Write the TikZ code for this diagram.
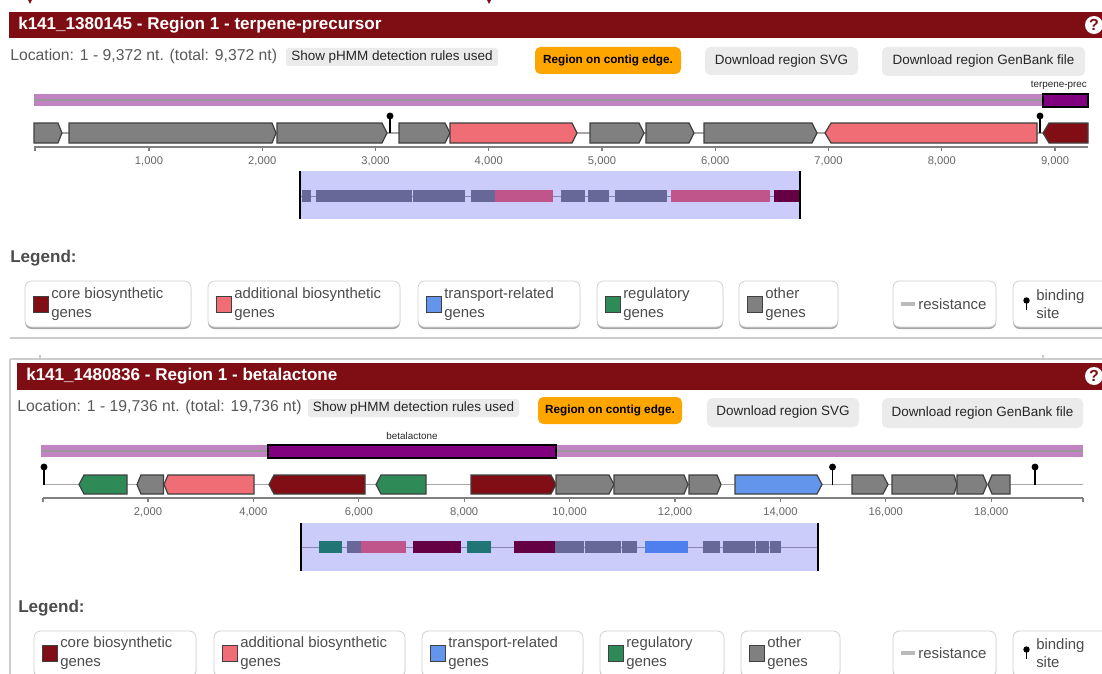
\documentclass[tikz,border=0pt]{standalone}
\usepackage{fontspec}
\setmainfont{Liberation Sans}
\usepackage{tikz}
\usetikzlibrary{positioning}
\usepackage{xcolor}

\definecolor{hdrred}{HTML}{7F0E14}
\definecolor{coregene}{HTML}{810E15}
\definecolor{addgene}{HTML}{F16D75}
\definecolor{othgene}{HTML}{808080}
\definecolor{transgene}{HTML}{6495ED}
\definecolor{reggene}{HTML}{2E8B57}
\definecolor{zoomfill}{HTML}{CCCCFB}
\definecolor{zslate}{HTML}{676798}
\definecolor{zpink}{HTML}{C0558C}
\definecolor{zdark}{HTML}{660044}
\definecolor{zteal}{HTML}{227575}
\definecolor{zblue}{HTML}{4F7FEF}
\definecolor{protolight}{HTML}{C283C2}
\definecolor{protodark}{HTML}{800080}
\definecolor{btngray}{HTML}{EBEBEB}
\definecolor{edgeorange}{HTML}{FFA500}

\tikzset{
  gene/.style={draw=black!75, line width=0.9pt},
  trackline/.style={draw=black!35, line width=0.8pt},
  axisline/.style={draw=black!50, line width=0.9pt},
  zline/.style={draw=zslate!80, line width=0.7pt},
  zedge/.style={draw=black, line width=2.2pt},
  sepline/.style={draw=black!20, line width=0.8pt},
  hdrtext/.style={font=\bfseries\fontsize{12.8}{15}\selectfont, text=white, inner sep=0pt},
  loctext/.style={font=\fontsize{11.8}{14}\selectfont, text=black!65, inner sep=0pt},
  btntext/.style={font=\fontsize{10.1}{12}\selectfont, text=black!85, inner sep=0pt},
  edgetext/.style={font=\bfseries\fontsize{8.8}{11}\selectfont, text=black, inner sep=0pt},
  ticktext/.style={font=\fontsize{8.4}{10}\selectfont, text=black!60, inner sep=0pt},
  smalltext/.style={font=\fontsize{7.4}{9}\selectfont, text=black!85, inner sep=0pt},
  legtitle/.style={font=\bfseries\fontsize{12.8}{15}\selectfont, text=black!70, inner sep=0pt},
  legtext/.style={font=\fontsize{11.2}{14}\selectfont, text=black!70, inner sep=0pt, align=left},
  legbox/.style={fill=white, draw=black!18, line width=0.6pt, rounded corners=5pt},
  legshadow/.style={fill=black!35, rounded corners=5pt},
  bsite/.style={draw=black, line width=1.1pt},
}

\begin{document}
\begin{tikzpicture}[x=0.75pt, y=-0.75pt]
\useasboundingbox (0,0) rectangle (1102,674);
\clip (0,0) rectangle (1102,674);
\fill[white] (0,0) rectangle (1102,674);

% first region
\fill[hdrred] (28,0) -- (32,0) -- (30,4) -- cycle;
\fill[hdrred] (487,0) -- (491,0) -- (489,4) -- cycle;
\fill[hdrred] (9,12) rectangle (1102,38);
\node[hdrtext, anchor=west] (titleA) at (18,25) {k141\_1380145 - Region 1 - terpene-precursor};
\fill[white] (1094,25) circle (6.75pt);
\node[font=\bfseries\fontsize{12}{14}\selectfont, text=hdrred, inner sep=0pt] (helpA) at (1094,25) {?};

\node[loctext, anchor=west] (locA) at (10,56) {Location: 1 - 9,372 nt. (total: 9,372 nt)};
\fill[btngray, rounded corners=2pt] (286,48) rectangle (498,66);
\node[btntext] (hmmA) at (392,57) {Show pHMM detection rules used};
\fill[edgeorange, rounded corners=4pt] (535,47) rectangle (681,74);
\node[edgetext] (edgeA) at (608,60.5) {Region on contig edge.};
\fill[btngray, rounded corners=4pt] (705,47) rectangle (858,75);
\node[btntext] (svgA) at (781.5,61) {Download region SVG};
\fill[btngray, rounded corners=4pt] (882,47) rectangle (1085,76);
\node[btntext] (gbkA) at (983.5,61.5) {Download region GenBank file};

\node[smalltext, anchor=east] (protoA) at (1087,85) {terpene-prec};
\fill[protolight] (34,94) rectangle (1088,106);
\draw[draw=black!40, line width=0.8pt] (34,100) -- (1088,100);
\filldraw[fill=protodark, draw=black, line width=0.8pt] (1043,94) rectangle (1088,107);

\draw[trackline] (34,133) -- (1088,133);
\foreach \a/\b/\p/\c in {34/58/62/othgene, 69/272/276/othgene, 277/382/387/othgene, 399/445/450/othgene, 450/572/577/addgene, 590/639/644/othgene, 646/689/694/othgene, 704/812/817/othgene}
  \filldraw[gene, fill=\c] (\a,123) -- (\b,123) -- (\p,133) -- (\b,143) -- (\a,143) -- cycle;
\foreach \p/\a/\b/\c in {825/831/1037/addgene, 1043/1049/1088/coregene}
  \filldraw[gene, fill=\c] (\p,133) -- (\a,123) -- (\b,123) -- (\b,143) -- (\a,143) -- cycle;
\foreach \x in {390,1040} {
  \draw[bsite] (\x,133) -- (\x,117);
  \fill (\x,116) circle (2.6pt);
}

\draw[axisline] (34,147) -- (1088,147);
\draw[axisline] (35,147) -- (35,151);
\foreach \k in {1,...,9} {
  \draw[axisline] ({149+113.25*(\k-1)},147) -- ++(0,4);
  \node[ticktext] (tickA\k) at ({149+113.25*(\k-1)},161) {\k,000};
}

\fill[zoomfill] (300,171) rectangle (800,219);
\draw[zline] (300,196) -- (800,196);
\foreach \a/\b/\c in {302/311/zslate, 316/412/zslate, 413/465/zslate, 471/495/zslate, 495/553/zpink, 561/585/zslate, 588/609/zslate, 615/667/zslate, 671/770/zpink, 774/800/zdark}
  \fill[\c] (\a,190) rectangle (\b,202);
\draw[zedge] (300,171) -- (300,219);
\draw[zedge] (800,171) -- (800,219);

\node[legtitle, anchor=west] (legA) at (10,258) {Legend:};
\foreach \a/\b/\c/\t in {25/191/coregene/{core biosynthetic\\genes}, 208/400/addgene/{additional biosynthetic\\genes}, 418/580/transgene/{transport-related\\genes}, 597/723/reggene/{regulatory\\genes}, 739/838/othgene/{other\\genes}} {
  \fill[legshadow] (\a,283) rectangle (\b,329);
  \filldraw[legbox] (\a,281) rectangle (\b,327);
  \filldraw[fill=\c, draw=black!75, line width=0.7pt] ({\a+8},296) rectangle ({\a+23},312);
  \node[legtext, anchor=west] (legA-\a) at ({\a+26},304) {\t};
}
\fill[legshadow] (893,283) rectangle (996,329);
\filldraw[legbox] (893,281) rectangle (996,327);
\fill[black!27] (901,302) rectangle (915,306);
\node[legtext, anchor=west] (resA) at (918,304) {resistance};
\fill[legshadow] (1013,283) rectangle (1115,329);
\filldraw[legbox] (1013,281) rectangle (1115,327);
\draw[bsite] (1026.5,301) -- (1026.5,310);
\fill (1026.5,300.5) circle (2.4pt);
\node[legtext, anchor=west] (bindA) at (1036,304) {binding\\site};

\draw[sepline] (10,338) -- (1102,338);

% second region
\draw[sepline] (10,359) -- (1102,359);
\draw[sepline] (10,359) -- (10,674);
\draw[sepline] (40,355) -- (40,359);
\draw[sepline] (1043,355) -- (1043,359);
\fill[hdrred] (17,363) rectangle (1102,390);
\node[hdrtext, anchor=west] (titleB) at (26,376.5) {k141\_1480836 - Region 1 - betalactone};
\fill[white] (1094,376) circle (6.75pt);
\node[font=\bfseries\fontsize{12}{14}\selectfont, text=hdrred, inner sep=0pt] (helpB) at (1094,376) {?};

\node[loctext, anchor=west] (locB) at (17,407) {Location: 1 - 19,736 nt. (total: 19,736 nt)};
\fill[btngray, rounded corners=2pt] (308,399) rectangle (519,417);
\node[btntext] (hmmB) at (413.5,408) {Show pHMM detection rules used};
\fill[edgeorange, rounded corners=4pt] (538,397) rectangle (682,424);
\node[edgetext] (edgeB) at (610,410.5) {Region on contig edge.};
\fill[btngray, rounded corners=4pt] (707,398) rectangle (859,427);
\node[btntext] (svgB) at (783,412.5) {Download region SVG};
\fill[btngray, rounded corners=4pt] (882,398) rectangle (1083,428);
\node[btntext] (gbkB) at (982.5,413) {Download region GenBank file};

\node[smalltext] (protoB) at (412,436) {betalactone};
\fill[protolight] (41,445) rectangle (1083,457);
\draw[draw=black!40, line width=0.8pt] (41,451) -- (1083,451);
\filldraw[fill=protodark, draw=black, line width=0.8pt] (268,445) rectangle (556,458);

\draw[trackline] (43,484.5) -- (1083,484.5);
\foreach \p/\a/\b/\c in {79/84/127/reggene, 137/141/163.5/othgene, 164/168/254/addgene, 269/274/365/coregene, 376/381/426/reggene, 988/992/1010/othgene}
  \filldraw[gene, fill=\c] (\p,484.5) -- (\a,475) -- (\b,475) -- (\b,494) -- (\a,494) -- cycle;
\foreach \a/\b/\p/\c in {471/551/556/coregene, 556/609/614/othgene, 614/684/688/othgene, 689/717/721/othgene, 735/817/822/transgene, 852/883/888/othgene, 892/954/957/othgene, 957/983/987/othgene}
  \filldraw[gene, fill=\c] (\a,475) -- (\b,475) -- (\p,484.5) -- (\b,494) -- (\a,494) -- cycle;
\foreach \x in {44,832.5,1035} {
  \draw[bsite] (\x,484.5) -- (\x,468);
  \fill (\x,467) circle (2.6pt);
}

\draw[axisline] (43,498) -- (1083,498);
\draw[axisline] (43,498) -- (43,502);
\draw[axisline] (1083,498) -- (1083,502);
\foreach \k in {1,...,9} {
  \pgfmathtruncatemacro{\v}{2*\k}
  \draw[axisline] ({148+105.4*(\k-1)},498) -- ++(0,4);
  \node[ticktext] (tickB\k) at ({148+105.4*(\k-1)},512) {\v,000};
}

\fill[zoomfill] (301,523) rectangle (818,571);
\draw[zline] (301,547) -- (818,547);
\foreach \a/\b/\c in {319/342/zteal, 347/361/zslate, 361/406/zpink, 413/461/zdark, 467/491/zteal, 514/555/zdark, 555/584/zslate, 585/621/zslate, 622/637/zslate, 645/688/zblue, 703/720/zslate, 723/755/zslate, 756/769/zslate, 770/781/zslate}
  \fill[\c] (\a,541) rectangle (\b,553);
\draw[zedge] (301,523) -- (301,571);
\draw[zedge] (818,523) -- (818,571);

\node[legtitle, anchor=west] (legB) at (18,608) {Legend:};
\foreach \a/\b/\c/\t in {34/196/coregene/{core biosynthetic\\genes}, 214/405/addgene/{additional biosynthetic\\genes}, 422/583/transgene/{transport-related\\genes}, 600/724/reggene/{regulatory\\genes}, 741/840/othgene/{other\\genes}} {
  \fill[legshadow] (\a,633) rectangle (\b,679);
  \filldraw[legbox] (\a,631) rectangle (\b,677);
  \filldraw[fill=\c, draw=black!75, line width=0.7pt] ({\a+8},645) rectangle ({\a+23},661);
  \node[legtext, anchor=west] (legB-\a) at ({\a+26},653) {\t};
}
\fill[legshadow] (893,633) rectangle (996,679);
\filldraw[legbox] (893,631) rectangle (996,677);
\fill[black!27] (901,651) rectangle (915,655);
\node[legtext, anchor=west] (resB) at (918,653) {resistance};
\fill[legshadow] (1013,633) rectangle (1115,679);
\filldraw[legbox] (1013,631) rectangle (1115,677);
\draw[bsite] (1026.5,650) -- (1026.5,659);
\fill (1026.5,649.5) circle (2.4pt);
\node[legtext, anchor=west] (bindB) at (1036,653) {binding\\site};
\end{tikzpicture}
\end{document}
